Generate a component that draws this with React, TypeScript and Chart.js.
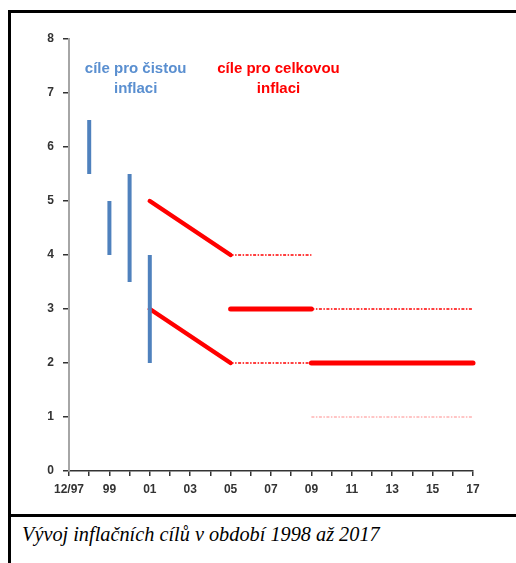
import React, { useEffect, useRef } from 'react';
import { Chart, registerables } from 'chart.js';

Chart.register(...registerables);

// ---- data ----
// core (net) inflation targets: vertical ranges at December of each year
const netTargetYears = [1998, 1999, 2000, 2001];
const netTargetLow = [5.5, 4, 3.5, 2];
const netTargetHigh = [6.5, 5, 5.5, 4];

// headline inflation: declining band 2002-2005
const bandYears = [2001, 2005];
const bandUpper = [5, 4];
const bandLower = [3, 2];

// point target 3 % with tolerance band 2006-2009
const pointYears = [2005, 2009];
const pointTarget = [3, 3];
const pointUpper = [4, 4];
const pointLower = [2, 2];

// point target 2 % with tolerance band from 2010
const finalYears = [2009, 2017];
const finalTarget = [2, 2];
const finalUpper = [3, 3];
const finalLower = [1, 1];

// axis ticks
const xTickYears = [1997, 1999, 2001, 2003, 2005, 2007, 2009, 2011, 2013, 2015, 2017];
const xTickLabels = ['12/97', '99', '01', '03', '05', '07', '09', '11', '13', '15', '17'];
const yTickValues = [0, 1, 2, 3, 4, 5, 6, 7, 8];

// annotation texts
const netLabelLines = ['cíle pro čistou', 'inflaci'];
const totalLabelLines = ['cíle pro celkovou', 'inflaci'];
const netLabelAnchor = { x: 2000.3, y: 7.44 };
const totalLabelAnchor = { x: 2007.37, y: 7.44 };

const captionText = 'Vývoj inflačních cílů v období 1998 až 2017';

const BLUE = '#4f81bd';
const RED = '#ff0000';

const pairs = (xs: number[], ys: number[]) => xs.map((x, i) => ({ x, y: ys[i] }));

export default function App() {
  const canvasRef = useRef<HTMLCanvasElement | null>(null);

  useEffect(() => {
    if (!canvasRef.current) return;

    const datasets: any[] = [];
    netTargetYears.forEach((yr, i) => {
      datasets.push({
        data: [{ x: yr, y: netTargetLow[i] }, { x: yr, y: netTargetHigh[i] }],
        borderColor: BLUE,
        borderWidth: 4,
        borderCapStyle: 'butt',
        pointRadius: 0,
        clip: false,
      });
    });
    const solid = (data: any[], width: number) => ({
      data,
      borderColor: RED,
      borderWidth: width,
      borderCapStyle: 'round',
      pointRadius: 0,
      clip: false,
    });
    const dashed = (data: any[], color: string, width: number) => ({
      data,
      borderColor: color,
      borderWidth: width,
      borderDash: [3, 1.5, 1.5, 1.5],
      pointRadius: 0,
      clip: false,
    });
    datasets.push(solid(pairs(bandYears, bandUpper), 4.5));
    datasets.push(solid(pairs(bandYears, bandLower), 4.5));
    datasets.push(dashed(pairs(pointYears, pointUpper), RED, 1.5));
    datasets.push(dashed(pairs(pointYears, pointLower), RED, 1.5));
    datasets.push(solid(pairs(pointYears, pointTarget), 5));
    datasets.push(dashed(pairs(finalYears, finalUpper), RED, 1.5));
    datasets.push(dashed(pairs(finalYears, finalLower), '#ff8c8c', 1.2));
    datasets.push(solid(pairs(finalYears, finalTarget), 5));

    const labelPlugin = {
      id: 'groupLabels',
      afterDatasetsDraw(chart: any) {
        const { ctx, scales } = chart;
        const xs = scales.x;
        const ys = scales.y;
        ctx.save();
        ctx.font = 'bold 15px "Liberation Sans", Arial, sans-serif';
        ctx.textAlign = 'center';
        ctx.textBaseline = 'middle';
        const draw = (lines: string[], a: { x: number; y: number }, color: string) => {
          ctx.fillStyle = color;
          const px = xs.getPixelForValue(a.x);
          const py = ys.getPixelForValue(a.y);
          lines.forEach((line, i) => ctx.fillText(line, px, py + i * 20));
        };
        draw(netLabelLines, netLabelAnchor, '#5a8fd0');
        draw(totalLabelLines, totalLabelAnchor, RED);
        ctx.restore();
      },
    };

    const tickFont = { family: '"Liberation Sans", Arial, sans-serif', size: 12, weight: 'bold' as const };

    const chart = new Chart(canvasRef.current, {
      type: 'line',
      data: { datasets },
      options: {
        animation: false,
        responsive: true,
        maintainAspectRatio: false,
        layout: { padding: { left: 0, top: 26, right: 43, bottom: 0 } },
        plugins: { legend: { display: false }, tooltip: { enabled: false } },
        scales: {
          x: {
            type: 'linear',
            min: xTickYears[0],
            max: xTickYears[xTickYears.length - 1],
            afterFit: (s: any) => {
              s.height = 43;
            },
            ticks: {
              stepSize: 1,
              autoSkip: false,
              maxRotation: 0,
              padding: 6,
              color: '#333',
              font: tickFont,
              callback: (v: any) => {
                const i = xTickYears.indexOf(Number(v));
                return i >= 0 ? xTickLabels[i] : '';
              },
            },
            grid: { drawOnChartArea: false, drawTicks: true, tickLength: 5, color: '#333', lineWidth: 1.5 },
            border: { display: true, color: '#333', width: 1.5 },
          },
          y: {
            min: yTickValues[0],
            max: yTickValues[yTickValues.length - 1],
            afterFit: (s: any) => {
              s.width = 58;
            },
            afterBuildTicks: (s: any) => {
              s.ticks = yTickValues.map((v) => ({ value: v }));
            },
            ticks: {
              padding: 9,
              color: '#333',
              font: tickFont,
              callback: (v: any) => String(v),
            },
            grid: { drawOnChartArea: false, drawTicks: true, tickLength: 6, color: '#333', lineWidth: 1.5 },
            border: { display: true, color: '#a6a6a6', width: 2 },
          },
        },
      },
      plugins: [labelPlugin],
    });

    return () => chart.destroy();
  }, []);

  return (
    <div style={{ position: 'absolute', left: 0, top: 0, width: 516, height: 563, overflow: 'hidden', background: '#fff' }}>
      <div
        style={{
          position: 'absolute',
          left: 8,
          top: 10,
          width: 530,
          height: 600,
          border: '3px solid #000',
          boxSizing: 'content-box',
        }}
      >
        <div style={{ position: 'relative', width: 505, height: 501 }}>
          <canvas ref={canvasRef} />
        </div>
        <div
          style={{
            borderTop: '3px solid #000',
            paddingTop: 5,
            paddingLeft: 11,
            fontFamily: '"Liberation Serif", "Times New Roman", serif',
            fontStyle: 'italic',
            fontSize: 20.3,
            lineHeight: '24px',
            color: '#000',
          }}
        >
          {captionText}
        </div>
      </div>
    </div>
  );
}
